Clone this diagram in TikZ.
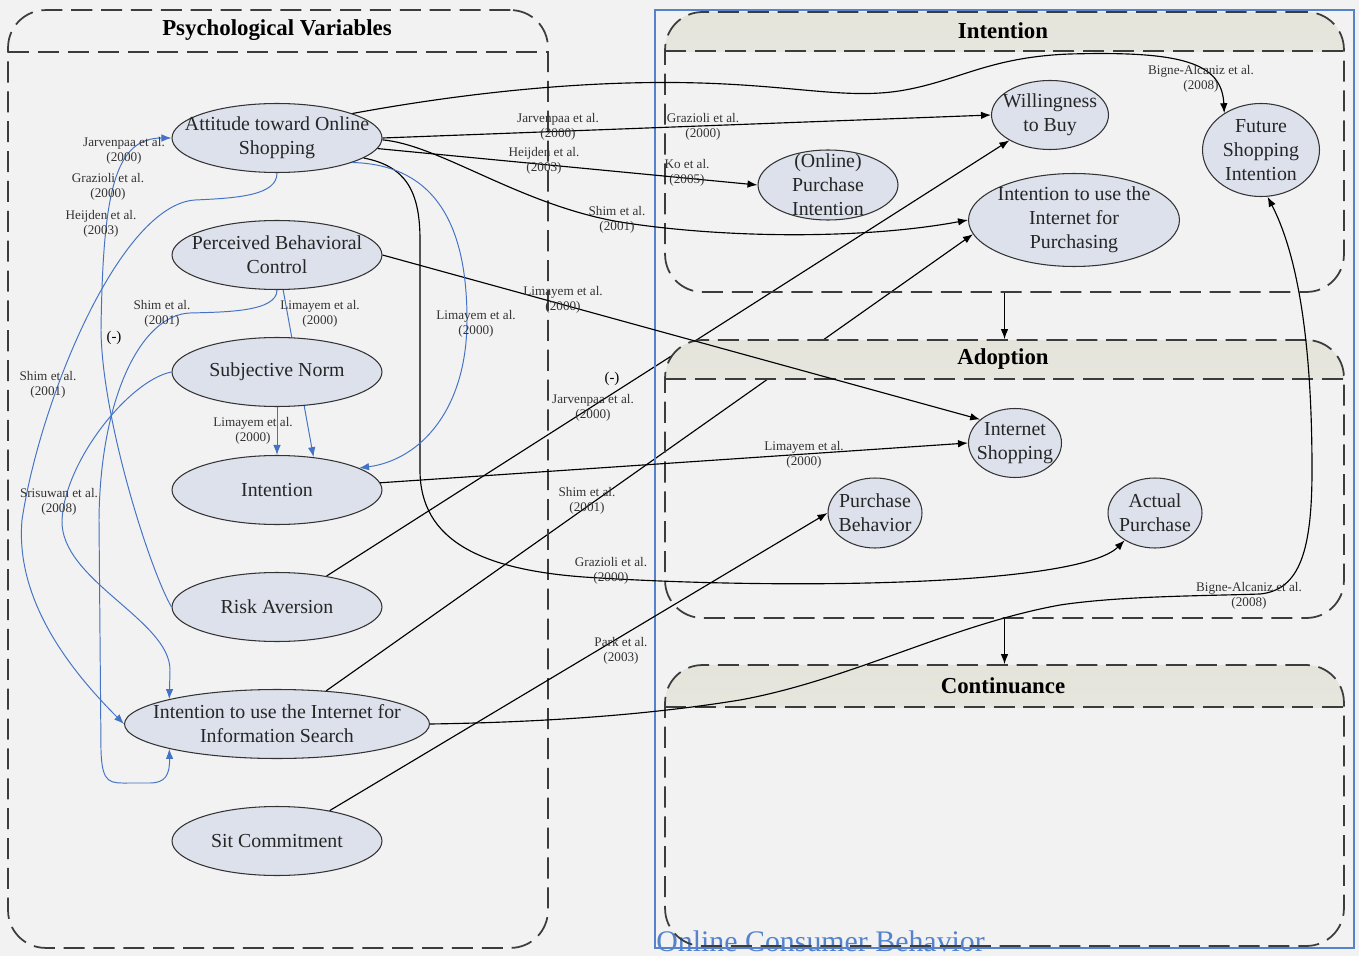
\documentclass[tikz,border=0pt]{standalone}
\usepackage{fontspec}
\setmainfont{Liberation Serif}
\usetikzlibrary{positioning,arrows.meta,shapes.geometric}
\definecolor{paper}{RGB}{241,242,241}
\definecolor{ovalfill}{RGB}{220,225,236}
\definecolor{linkblue}{RGB}{68,114,196}
\definecolor{boxblue}{RGB}{84,130,204}
\definecolor{dashgray}{RGB}{60,60,60}
\definecolor{headtop}{RGB}{228,228,219}
\definecolor{headbot}{RGB}{243,243,240}
\pgfdeclarelayer{under}
\pgfsetlayers{under,main}

\tikzset{
  panel/.style={draw=dashgray, line width=1pt, dash pattern=on 12pt off 5pt, rounded corners=0.75cm, inner sep=0pt},
  headline/.style={path picture={
    \draw[sharp corners, dashgray, line width=1pt, dash pattern=on 12pt off 5pt]
      ([yshift=-#1]path picture bounding box.north west) -- ([yshift=-#1]path picture bounding box.north east);}},
  headshade/.style={path picture={
    \shade[sharp corners, top color=headtop, bottom color=headbot]
      (path picture bounding box.north west) rectangle ([yshift=-#1]path picture bounding box.north east);
    \draw[sharp corners, dashgray, line width=1pt, dash pattern=on 12pt off 5pt]
      ([yshift=-#1]path picture bounding box.north west) -- ([yshift=-#1]path picture bounding box.north east);}},
  title/.style={font=\fontsize{13}{15}\selectfont\bfseries, inner sep=0pt},
  oval/.style={ellipse, draw=black!80, fill=ovalfill, line width=0.6pt, inner sep=0pt},
  ovaltext/.style={align=center, font=\fontsize{11.3}{13.6}\selectfont, text=black!85, inner sep=0pt},
  cite/.style={align=center, font=\fontsize{7.5}{8.6}\selectfont, text=black!80, inner sep=0pt},
  minus/.style={font=\fontsize{8.5}{10}\selectfont, inner sep=0pt},
  link/.style={draw=black, line width=0.65pt, -{Latex[length=2mm,width=1.5mm]}},
  blink/.style={draw=linkblue, line width=0.55pt, -{Latex[length=2mm,width=1.5mm]}},
}

\begin{document}
\begin{tikzpicture}[x=0.02cm, y=-0.02cm]
\begin{pgfonlayer}{under}
\fill[paper] (0,0) rectangle (1359,956);
\end{pgfonlayer}

% frames
\node[draw=boxblue, line width=1pt, minimum width=13.98cm, minimum height=18.76cm, inner sep=0pt] (ocb) at (1004.5,479) {};
\node[font=\fontsize{17}{20}\selectfont, text=boxblue, anchor=base west, inner sep=0pt] (ocb-t) at (656,951) {Online Consumer Behavior};

\node[panel, headline=0.84cm, minimum width=10.8cm, minimum height=18.76cm] (psyp) at (278,479) {};
\node[panel, headshade=0.78cm, minimum width=13.58cm, minimum height=5.6cm] (intp) at (1004.5,152) {};
\node[panel, headshade=0.78cm, minimum width=13.58cm, minimum height=5.56cm] (adop) at (1004.5,479) {};
\node[panel, headshade=0.84cm, minimum width=13.58cm, minimum height=5.62cm] (conp) at (1004.5,805.5) {};
\node[title] (psyp-t) at (277,30) {Psychological Variables};
\node[title] (intp-t) at (1003,31) {Intention};
\node[title] (adop-t) at (1003,359) {Adoption};
\node[title] (conp-t) at (1003,686) {Continuance};

% psychological variables
\node[oval, minimum width=4.2cm, minimum height=1.38cm] (att) at (277,138) {};
\node[ovaltext] (att-t) at (att) {Attitude toward Online\\Shopping};
\node[oval, minimum width=4.2cm, minimum height=1.38cm] (pbc) at (277,255) {};
\node[ovaltext] (pbc-t) at (pbc) {Perceived Behavioral\\Control};
\node[oval, minimum width=4.2cm, minimum height=1.38cm] (sn) at (277,372) {};
\node[ovaltext] (sn-t) at (sn) {Subjective Norm};
\node[oval, minimum width=4.2cm, minimum height=1.38cm] (int) at (277,490) {};
\node[ovaltext] (int-t) at (int) {Intention};
\node[oval, minimum width=4.2cm, minimum height=1.38cm] (risk) at (277,607) {};
\node[ovaltext] (risk-t) at (risk) {Risk Aversion};
\node[oval, minimum width=6.1cm, minimum height=1.38cm] (iis) at (277,724) {};
\node[ovaltext] (iis-t) at (iis) {Intention to use the Internet for\\Information Search};
\node[oval, minimum width=4.2cm, minimum height=1.38cm] (sit) at (277,841) {};
\node[ovaltext] (sit-t) at (sit) {Sit Commitment};

% behavior
\node[oval, minimum width=2.34cm, minimum height=1.38cm] (wtb) at (1050,115) {};
\node[ovaltext] (wtb-t) at (wtb) {Willingness\\to Buy};
\node[oval, minimum width=2.34cm, minimum height=1.86cm] (fsi) at (1261,150) {};
\node[ovaltext] (fsi-t) at (fsi) {Future\\Shopping\\Intention};
\node[oval, minimum width=2.8cm, minimum height=1.4cm] (opi) at (828,185) {};
\node[ovaltext] (opi-t) at (opi) {(Online)\\Purchase\\Intention};
\node[oval, minimum width=4.22cm, minimum height=1.86cm] (iip) at (1074,220) {};
\node[ovaltext] (iip-t) at (iip) {Intention to use the\\Internet for\\Purchasing};
\node[oval, minimum width=1.86cm, minimum height=1.38cm] (ishop) at (1015,443) {};
\node[ovaltext] (ishop-t) at (ishop) {Internet\\Shopping};
\node[oval, minimum width=1.88cm, minimum height=1.4cm] (pb) at (875,513) {};
\node[ovaltext] (pb-t) at (pb) {Purchase\\Behavior};
\node[oval, minimum width=1.88cm, minimum height=1.4cm] (ap) at (1155,513) {};
\node[ovaltext] (ap-t) at (ap) {Actual\\Purchase};

% links that pass under the headers and ovals
\begin{pgfonlayer}{under}
\draw[link] (risk.32) -- (wtb.212);
\draw[link] (iis.34) -- (iip.188);
\draw[blink] (pbc.-80) -- (int.42);
\end{pgfonlayer}

% stage arrows
\draw[link] (intp.south) -- (adop.north);
\draw[link] (adop.south) -- (conp.north);

% black links
\draw[link] (att.18) .. controls (480,90) and (600,80) .. (700,83)
  .. controls (800,86) and (850,100) .. (905,90)
  .. controls (960,80) and (990,57) .. (1070,54)
  .. controls (1180,51) and (1222,62) .. (fsi.135);
\draw[link] (att.east) -- (wtb.west);
\draw[link] (att.-6) -- (opi.west);
\draw[link] (att.-1) .. controls (440,145) and (520,205) .. (620,222)
  .. controls (720,238) and (860,240) .. (iip.west);
\draw[link] (att.-13) .. controls (405,166) and (420,190) .. (420,240) -- (420,470)
  .. controls (420,540) and (480,572) .. (600,578)
  .. controls (800,590) and (1080,585) .. (ap.-138);
\draw[link] (pbc.east) -- (ishop.146);
\draw[link] (int.4) -- (ishop.west);
\draw[link] (sit.30) -- (pb.west);
\draw[link] (iis.east) .. controls (560,722) and (660,713) .. (740,700)
  .. controls (850,680) and (950,625) .. (1060,605)
  .. controls (1120,596) and (1200,596) .. (1260,594)
  .. controls (1300,590) and (1312,550) .. (1312,470)
  .. controls (1312,330) and (1295,250) .. (fsi.-82);

% blue links
\draw[blink] (risk.west) .. controls (150,570) and (102,420) .. (101,330)
  .. controls (103,190) and (115,138) .. (att.west);
\draw[blink] (att.south) .. controls (277,195) and (240,198) .. (195,200)
  .. controls (120,205) and (40,400) .. (22,520)
  .. controls (15,600) and (70,670) .. (iis.west);
\draw[blink] (pbc.south) .. controls (277,312) and (225,312) .. (190,313)
  .. controls (140,315) and (100,400) .. (99,520) -- (101,750)
  .. controls (102,785) and (110,783) .. (130,783) -- (150,783)
  .. controls (165,783) and (170,775) .. (iis.193);
\draw[blink] (sn.west) .. controls (130,380) and (65,460) .. (62,520)
  .. controls (60,580) and (170,620) .. (170,670) -- (iis.167);
\draw[blink] (att.-18) .. controls (445,165) and (467,240) .. (467,320)
  .. controls (467,410) and (420,460) .. (int.15);
\draw[blink] (sn.south) -- (int.north);

% references
\node[cite] (r1) at (124,151) {Jarvenpaa et al.\\(2000)};
\node[cite] (r2) at (108,187) {Grazioli et al.\\(2000)};
\node[cite] (r3) at (101,224) {Heijden et al.\\(2003)};
\node[minus] (r4) at (114,338) {(-)};
\node[cite] (r5) at (162,314) {Shim et al.\\(2001)};
\node[cite] (r6) at (320,314) {Limayem et al.\\(2000)};
\node[cite] (r7) at (48,385) {Shim et al.\\(2001)};
\node[cite] (r8) at (253,431) {Limayem et al.\\(2000)};
\node[cite] (r9) at (59,502) {Srisuwan et al.\\(2008)};
\node[cite] (r10) at (476,324) {Limayem et al.\\(2000)};
\node[cite] (r11) at (558,127) {Jarvenpaa et al.\\(2000)};
\node[cite] (r12) at (703,127) {Grazioli et al.\\(2000)};
\node[cite] (r13) at (544,161) {Heijden et al.\\(2003)};
\node[cite] (r14) at (687,173) {Ko et al.\\(2005)};
\node[cite] (r15) at (617,220) {Shim et al.\\(2001)};
\node[cite] (r16) at (563,300) {Limayem et al.\\(2000)};
\node[minus] (r17) at (612,379) {(-)};
\node[cite] (r18) at (593,408) {Jarvenpaa et al.\\(2000)};
\node[cite] (r19) at (804,455) {Limayem et al.\\(2000)};
\node[cite] (r20) at (587,501) {Shim et al.\\(2001)};
\node[cite] (r21) at (611,571) {Grazioli et al.\\(2000)};
\node[cite] (r22) at (621,651) {Park et al.\\(2003)};
\node[cite] (r23) at (1201,79) {Bigne-Alcaniz et al.\\(2008)};
\node[cite] (r24) at (1249,596) {Bigne-Alcaniz et al.\\(2008)};
\end{tikzpicture}
\end{document}
